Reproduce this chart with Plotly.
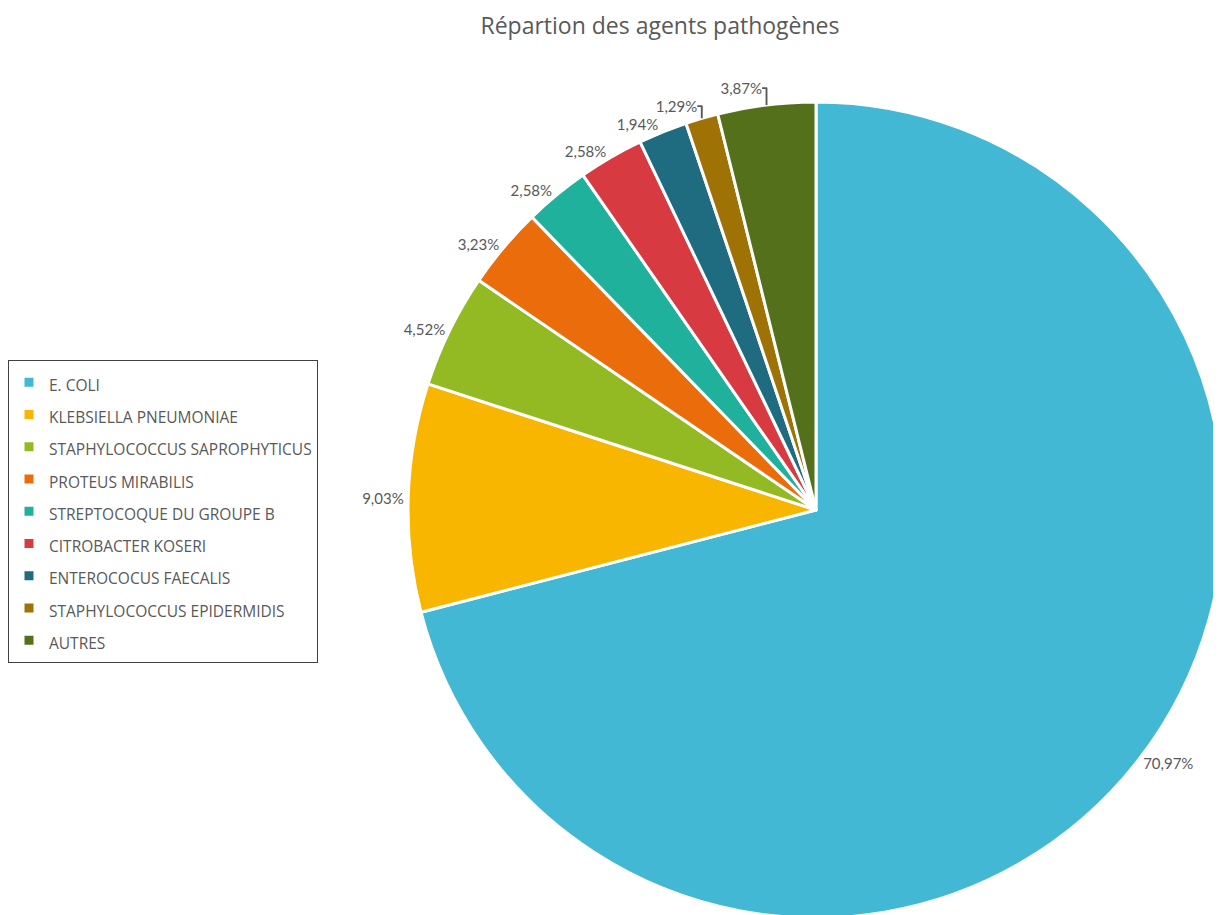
import plotly.graph_objects as go

categories = [
    "E. COLI",
    "KLEBSIELLA PNEUMONIAE",
    "STAPHYLOCOCCUS SAPROPHYTICUS",
    "PROTEUS MIRABILIS",
    "STREPTOCOQUE DU GROUPE B",
    "CITROBACTER KOSERI",
    "ENTEROCOCUS FAECALIS",
    "STAPHYLOCOCCUS EPIDERMIDIS",
    "AUTRES",
]
counts = [110, 14, 7, 5, 4, 4, 3, 2, 6]
colors = ["#42B8D4", "#F8B601", "#93BA22", "#EB6C0B", "#20B19C",
          "#D83A42", "#1F6B80", "#9E7205", "#55701B"]

W, H = 1221, 915
fig = go.Figure(go.Pie(
    labels=[f'<span style="font-size:15.5px">{c}</span>' for c in categories],
    values=counts,
    sort=False,
    direction="clockwise",
    rotation=0,
    marker=dict(colors=colors, line=dict(color="white", width=3)),
    textinfo="percent",
    texttemplate="%{percent:.2%}",
    textposition="outside",
    textfont=dict(family="Lato", size=15, color="#595959"),
    domain=dict(x=[400 / W, 1216 / W], y=[1 - 910 / H, 1 - 94 / H]),
    hoverinfo="label+value+percent",
))

fig.update_layout(
    width=W, height=H,
    separators=", ",
    margin=dict(l=0, r=0, t=0, b=0),
    paper_bgcolor="white",
    title=dict(text="Répartion des agents pathogènes", x=652 / W, xanchor="center",
               y=1 - 18 / H, yanchor="middle",
               font=dict(family="Open Sans", size=23, color="#595959")),
    showlegend=True,
    legend=dict(x=0, y=1 - 352 / H, xanchor="left", yanchor="top",
                bordercolor="#404040", borderwidth=1, bgcolor="white",
                font=dict(family="Open Sans", size=22.5, color="#595959"),
                traceorder="normal"),
)

fig.write_html("out.html")
